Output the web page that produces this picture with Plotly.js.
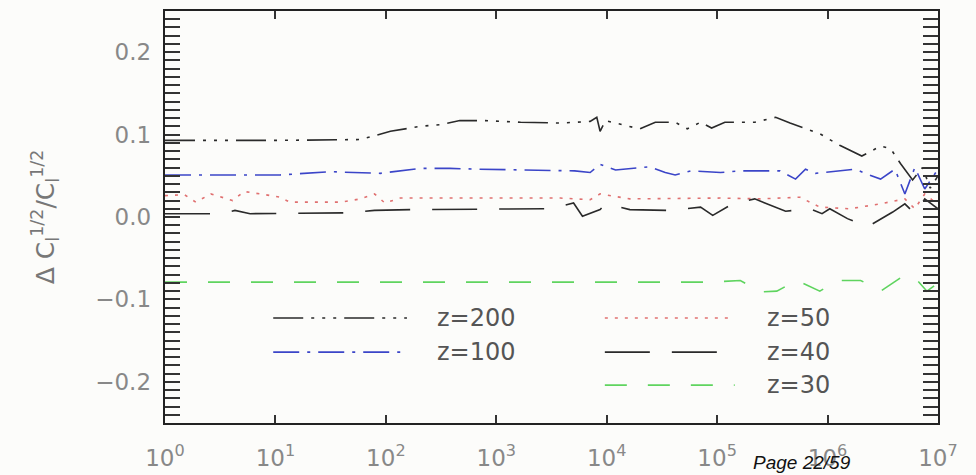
<!DOCTYPE html>
<html>
<head>
<meta charset="utf-8">
<script src="https://cdn.plot.ly/plotly-3.0.1.min.js"></script>
<style>html,body{margin:0;padding:0;background:#fcfcfa;}#chart{width:976px;height:475px;}</style>
</head>
<body>
<div id="chart"></div>
<script>
// ---- data ----
const seriesNames = ["z=200", "z=100", "z=50", "z=40", "z=30"];

const x_z200 = [1, 11, 59, 76, 110, 204, 309, 468, 794, 1660, 3800, 7080, 8130, 8710, 9770, 14800, 19950, 27540, 41690, 53700, 70800, 89100, 117500, 218800, 338800, 457000, 631000, 851000, 1288000, 2042000, 3020000, 3715000, 4571000, 5888000, 7244000, 8511000, 10000000];
const y_z200 = [0.093, 0.093, 0.094, 0.098, 0.104, 0.110, 0.112, 0.117, 0.117, 0.115, 0.114, 0.116, 0.121, 0.104, 0.117, 0.111, 0.107, 0.115, 0.115, 0.107, 0.115, 0.108, 0.115, 0.115, 0.121, 0.114, 0.107, 0.101, 0.087, 0.074, 0.086, 0.083, 0.065, 0.045, 0.060, 0.035, 0.050];

const x_z100 = [1, 11, 31, 89, 204, 380, 708, 2040, 5130, 7080, 8710, 12020, 24550, 33880, 41690, 57540, 107200, 162200, 371500, 512900, 631000, 776200, 1778000, 2188000, 3020000, 4074000, 5012000, 6166000, 7586000, 10000000];
const y_z100 = [0.051, 0.051, 0.055, 0.053, 0.059, 0.059, 0.058, 0.057, 0.056, 0.054, 0.064, 0.057, 0.061, 0.054, 0.051, 0.056, 0.054, 0.056, 0.056, 0.046, 0.058, 0.053, 0.058, 0.053, 0.046, 0.058, 0.028, 0.060, 0.034, 0.058];

const x_z50 = [1, 1.5, 1.9, 2.6, 4.1, 5.2, 8.1, 11, 13.5, 39, 59, 79, 98, 135, 3800, 7080, 8710, 16200, 107200, 245500, 562300, 851000, 1585000, 3020000, 5012000, 6166000, 7586000, 10000000];
const y_z50 = [0.026, 0.027, 0.018, 0.028, 0.020, 0.031, 0.027, 0.024, 0.018, 0.018, 0.022, 0.028, 0.017, 0.023, 0.023, 0.021, 0.028, 0.022, 0.023, 0.022, 0.024, 0.012, 0.010, 0.016, 0.022, 0.010, 0.028, 0.015];

const x_z40 = [1, 3.2, 4.3, 5.9, 43, 79, 166, 3090, 5010, 6030, 8710, 9770, 16200, 37150, 70800, 91200, 138000, 218800, 416900, 691800, 891300, 1047000, 1514000, 2291000, 3890000, 5012000, 6166000, 7586000, 10000000];
const y_z40 = [0.004, 0.004, 0.008, 0.004, 0.005, 0.008, 0.009, 0.010, 0.017, 0.001, 0.009, 0.016, 0.009, 0.008, 0.012, 0.002, 0.016, 0.022, 0.007, 0.010, 0.004, 0.010, -0.002, -0.012, 0.006, 0.016, 0.004, 0.022, 0.010];

const x_z30 = [1, 87100, 162200, 245500, 346700, 524800, 851000, 1230000, 1995000, 3020000, 4786000, 6026000, 7943000, 10000000];
const y_z30 = [-0.079, -0.079, -0.077, -0.091, -0.090, -0.077, -0.090, -0.077, -0.077, -0.090, -0.072, -0.072, -0.090, -0.080];

const xTickVals = [1, 10, 100, 1000, 10000, 100000, 1000000, 10000000];
const xTickText = ["10<sup>0</sup>", "10<sup>1</sup>", "10<sup>2</sup>", "10<sup>3</sup>", "10<sup>4</sup>", "10<sup>5</sup>", "10<sup>6</sup>", "10<sup>7</sup>"];
const yTitle = "\u0394 C<sub>l</sub><sup>1/2</sup>/C<sub>l</sub><sup>1/2</sup>";

// ---- styles ----
const FONT = "DejaVu Sans, Liberation Sans, sans-serif";
const colors = ["#2a2a2a", "#3b45c8", "#e07070", "#2a2a2a", "#5fd45f"];
const dashes = ["30px,8px,3px,8px,3px,8px,3px,8px", "26px,8px,3px,8px", "3px,7px", "45px,22px", "22px,21px"];
const xs = [x_z200, x_z100, x_z50, x_z40, x_z30];
const ys = [y_z200, y_z100, y_z50, y_z40, y_z30];

const traces = seriesNames.map((n, i) => ({
  type: "scatter", mode: "lines", name: n,
  x: xs[i], y: ys[i],
  line: {color: colors[i], width: 1.6, dash: dashes[i]},
  showlegend: false, hoverinfo: "skip"
}));
// empty trace that only registers the label-carrying x axis
traces.push({type: "scatter", mode: "lines", x: [], y: [], xaxis: "x2", yaxis: "y", showlegend: false, hoverinfo: "skip"});

// manual legend (two columns inside the plot)
const legendPos = [
  {x0: 0.140, x1: 0.313, y: 0.255, tx: 0.349},
  {x0: 0.140, x1: 0.313, y: 0.172, tx: 0.349},
  {x0: 0.569, x1: 0.737, y: 0.255, tx: 0.776},
  {x0: 0.569, x1: 0.737, y: 0.172, tx: 0.776},
  {x0: 0.569, x1: 0.737, y: 0.092, tx: 0.776}
];
const shapes = legendPos.map((p, i) => ({
  type: "line", xref: "paper", yref: "paper",
  x0: p.x0, x1: p.x1, y0: p.y, y1: p.y,
  line: {color: colors[i], width: 1.6, dash: dashes[i]}
}));
const annotations = legendPos.map((p, i) => ({
  xref: "paper", yref: "paper", x: p.tx, y: p.y,
  xanchor: "left", yanchor: "middle", showarrow: false,
  text: seriesNames[i],
  font: {family: FONT, size: 24, color: "#555"}
}));
annotations.push({
  xref: "paper", yref: "paper", x: 0.824, y: -0.096,
  xanchor: "center", yanchor: "middle", showarrow: false,
  text: "<i>Page 22/59</i>",
  font: {family: "Liberation Sans, Arial, sans-serif", size: 19, color: "#111"}
});
annotations.push({
  xref: "paper", yref: "paper", x: -0.155, y: 0.5,
  xanchor: "center", yanchor: "middle", showarrow: false, textangle: -90,
  text: yTitle,
  font: {family: FONT, size: 25, color: "#777"}
});

const layout = {
  width: 976, height: 475,
  margin: {l: 165, r: 38, t: 11, b: 52},
  paper_bgcolor: "#fcfcfa", plot_bgcolor: "#fcfcfa",
  showlegend: false,
  font: {family: FONT, color: "#777"},
  xaxis: {
    type: "log", range: [0, 7],
    tickmode: "array", tickvals: xTickVals,
    showticklabels: false,
    ticks: "inside", ticklen: 8, tickwidth: 1.5, tickcolor: "#333",
    showline: true, linecolor: "#222", linewidth: 2, mirror: "allticks",
    showgrid: false, zeroline: false
  },
  // label-only axis (transparent outside ticks push the labels down)
  xaxis2: {
    type: "log", range: [0, 7], overlaying: "x", anchor: "y", side: "bottom",
    tickmode: "array", tickvals: xTickVals, ticktext: xTickText,
    ticks: "outside", ticklen: 14, tickcolor: "rgba(0,0,0,0)",
    showline: false, showgrid: false, zeroline: false,
    tickfont: {family: FONT, size: 23, color: "#888"}
  },
  yaxis: {
    range: [-0.25, 0.25],
    tickmode: "linear", tick0: 0, dtick: 0.1, tickformat: ".1f",
    ticks: "inside", ticklen: 15, tickwidth: 1.5, tickcolor: "#333",
    minor: {tickmode: "linear", dtick: 0.01, ticks: "inside", ticklen: 7, tickwidth: 1.5, tickcolor: "#333", showgrid: false},
    showline: true, linecolor: "#222", linewidth: 2, mirror: "allticks",
    showgrid: false, zeroline: false,
    tickfont: {family: FONT, size: 23, color: "#888"},
    ticksuffix: " "
  },
  shapes: shapes,
  annotations: annotations
};

Plotly.newPlot("chart", traces, layout, {displayModeBar: false});
</script>
</body>
</html>
